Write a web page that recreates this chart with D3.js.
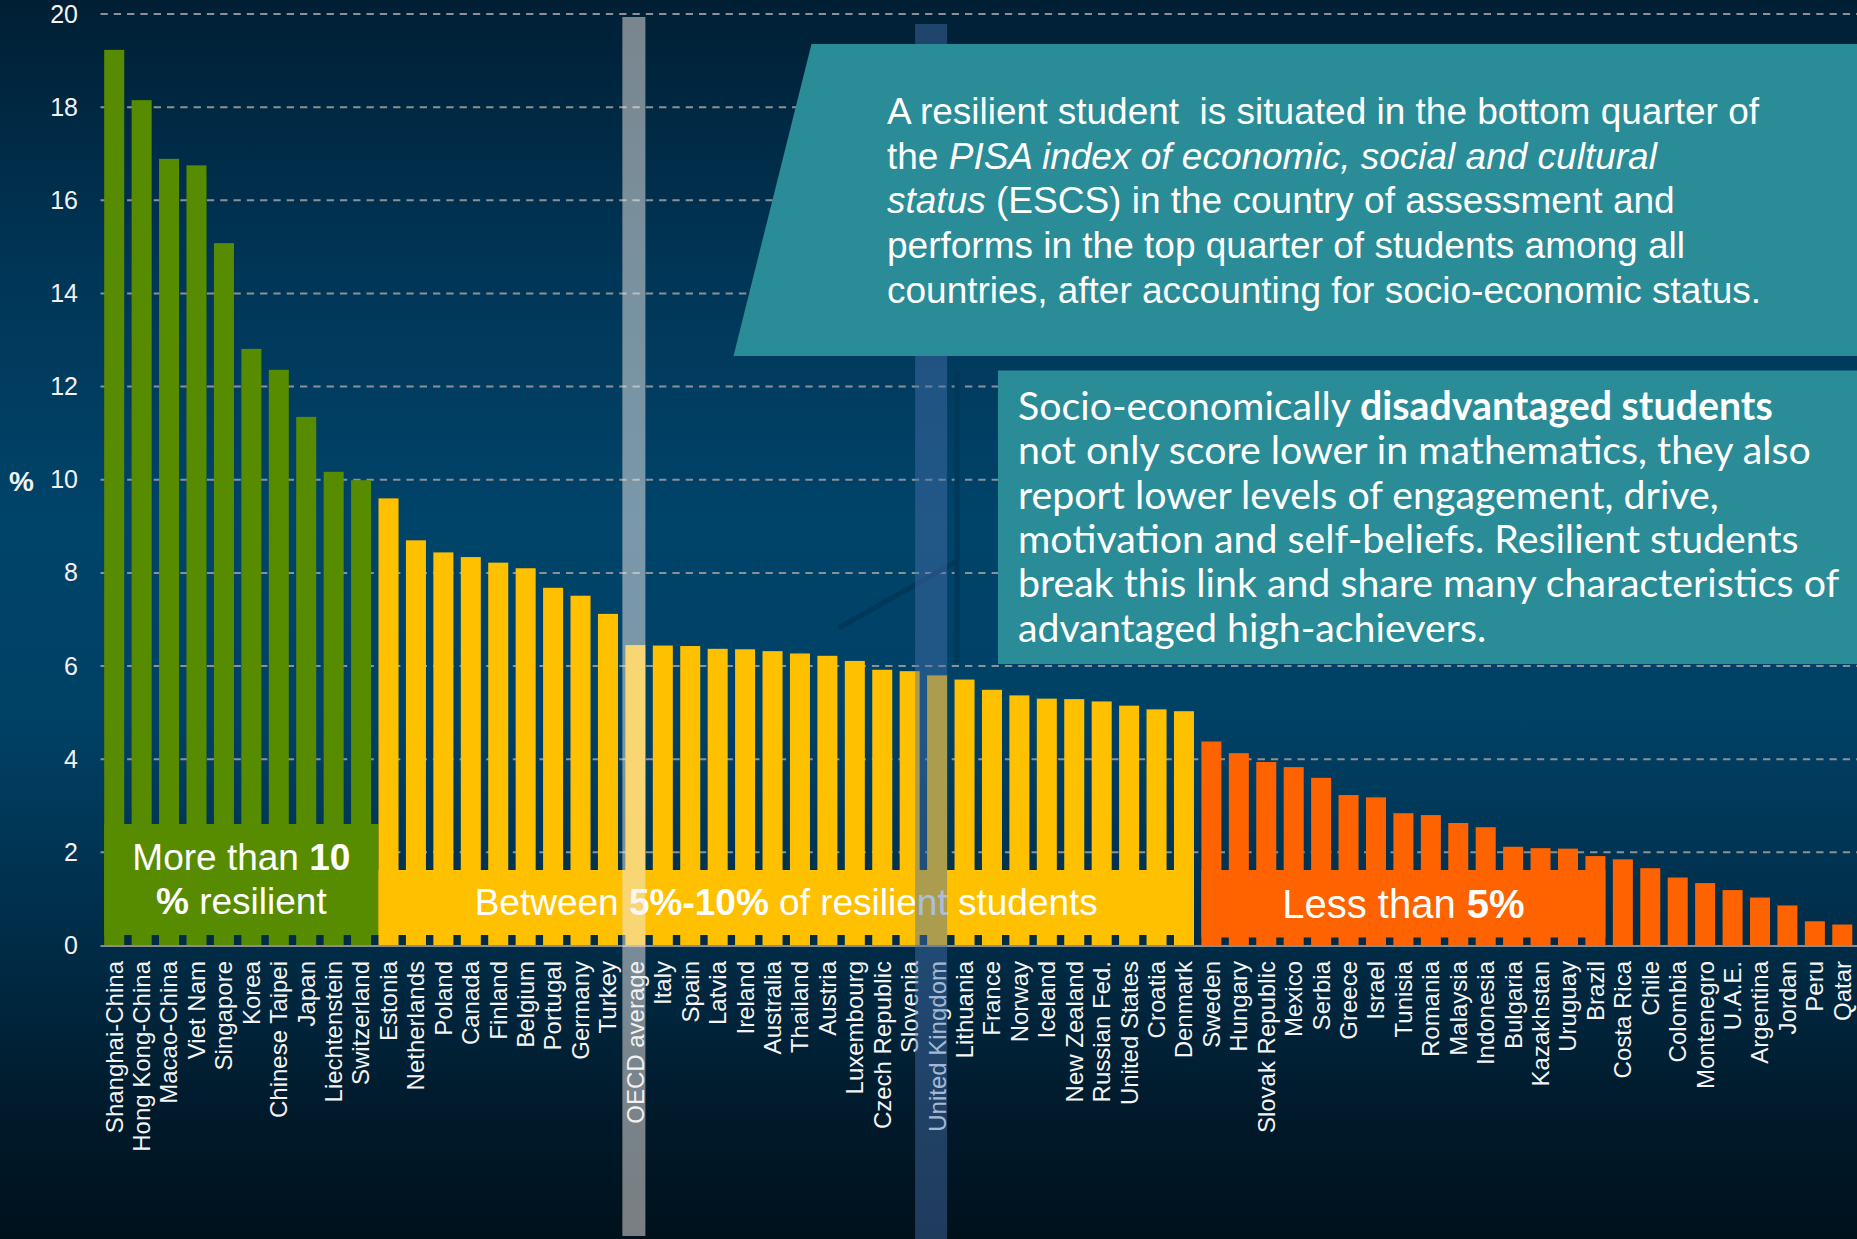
<!DOCTYPE html>
<html>
<head>
<meta charset="utf-8">
<script src="https://cdn.jsdelivr.net/npm/d3@7"></script>
<style>
  html, body { margin: 0; padding: 0; background: #00111c; overflow: hidden; }
  svg { display: block; }
</style>
</head>
<body>
<svg id="chart" width="1857" height="1239"></svg>
<script>
// Share of resilient students, PISA 2012 (%)
const countries = [
  "Shanghai-China", "Hong Kong-China", "Macao-China", "Viet Nam", "Singapore",
  "Korea", "Chinese Taipei", "Japan", "Liechtenstein", "Switzerland",
  "Estonia", "Netherlands", "Poland", "Canada", "Finland", "Belgium", "Portugal",
  "Germany", "Turkey", "OECD average", "Italy", "Spain", "Latvia", "Ireland",
  "Australia", "Thailand", "Austria", "Luxembourg", "Czech Republic", "Slovenia",
  "United Kingdom", "Lithuania", "France", "Norway", "Iceland", "New Zealand",
  "Russian Fed.", "United States", "Croatia", "Denmark",
  "Sweden", "Hungary", "Slovak Republic", "Mexico", "Serbia", "Greece", "Israel",
  "Tunisia", "Romania", "Malaysia", "Indonesia", "Bulgaria", "Kazakhstan",
  "Uruguay", "Brazil", "Costa Rica", "Chile", "Colombia", "Montenegro", "U.A.E.",
  "Argentina", "Jordan", "Peru", "Qatar"
];

const resilientPct = [
  19.23, 18.15, 16.89, 16.75, 15.08, 12.81, 12.36, 11.35, 10.17, 9.99,
  9.60, 8.70, 8.44, 8.34, 8.22, 8.10, 7.68, 7.51, 7.12, 6.45,
  6.44, 6.43, 6.37, 6.36, 6.32, 6.27, 6.22, 6.11, 5.92, 5.89,
  5.80, 5.71, 5.49, 5.37, 5.30, 5.29, 5.24, 5.15, 5.07, 5.03,
  4.38, 4.13, 3.94, 3.83, 3.60, 3.23, 3.18, 2.84, 2.80, 2.63,
  2.54, 2.12, 2.09, 2.08, 1.92, 1.85, 1.66, 1.46, 1.34, 1.19,
  1.03, 0.86, 0.52, 0.45
];

// Groups: first country of each group (countries are sorted by share)
const groupFirst = ["Shanghai-China", "Estonia", "Sweden"];
// Group banners: where each banner runs, and its label
const bannerFrom = ["Shanghai-China", "Estonia", "Sweden"];
const bannerTo = ["Switzerland", "Denmark", "Brazil"];
const bannerLines = [
  [[["More than ", false], ["10", true]], [["%", true], [" resilient", false]]],
  [[["Between ", false], ["5%-10%", true], [" of resilient students", false]]],
  [[["Less than ", false], ["5%", true]]]
];

const yTicks = [0, 2, 4, 6, 8, 10, 12, 14, 16, 18, 20];
const highlighted = ["OECD average", "United Kingdom"];

// ---- styling ----
const groupColours = ["#588c00", "#ffc000", "#ff6300"];
const W = 1857, H = 1239;
const svg = d3.select("#chart");

const defs = svg.append("defs");
const bg = defs.append("linearGradient").attr("id", "bg")
  .attr("x1", 0).attr("y1", 0).attr("x2", 0).attr("y2", 1);
[[0, "#001f34"], [0.22, "#003657"], [0.42, "#00446a"], [0.58, "#004166"],
 [0.76, "#002c47"], [0.9, "#001a2b"], [1, "#00111c"]]
  .forEach(([o, c]) => bg.append("stop").attr("offset", o).attr("stop-color", c));

svg.append("rect").attr("width", W).attr("height", H).attr("fill", "url(#bg)");

// ---- scales ----
const x = d3.scaleBand().domain(countries)
  .range([100.5, 1856]).paddingInner(0.27).paddingOuter(0.135);
const y = d3.scaleLinear().domain([0, 20]).range([945.5, 14]);

const data = countries.map((c, i) => ({ country: c, value: resilientPct[i], index: i }));
const groupStartIdx = groupFirst.map(c => countries.indexOf(c));
const groupOf = i => groupStartIdx.filter(s => i >= s).length - 1;

// ---- gridlines ----
svg.append("g").selectAll("line").data(yTicks.filter(t => t > 0)).join("line")
  .attr("x1", 100.5).attr("x2", W)
  .attr("y1", d => y(d)).attr("y2", d => y(d))
  .attr("stroke", "#8d9194").attr("stroke-width", 2)
  .attr("stroke-dasharray", "7.3,6");

// ---- group banners (around the bars) ----
const bannerTop = [824, 870, 870];
const bannerBottom = [935, 935, 937.5];
const bannerSpan = g => {
  const x0 = x(bannerFrom[g]);
  const x1 = g === 0 ? x(countries[countries.indexOf(bannerTo[g]) + 1])
                     : x(bannerTo[g]) + x.bandwidth();
  return [x0, x1];
};
const banners = svg.append("g");
bannerFrom.forEach((from, g) => {
  const [x0, x1] = bannerSpan(g);
  banners.append("rect")
    .attr("x", x0).attr("y", bannerTop[g])
    .attr("width", x1 - x0).attr("height", bannerBottom[g] - bannerTop[g])
    .attr("fill", groupColours[g]);
});

// ---- bars ----
svg.append("g").selectAll("rect").data(data).join("rect")
  .attr("x", d => x(d.country))
  .attr("width", x.bandwidth())
  .attr("y", d => y(d.value))
  .attr("height", d => y(0) - y(d.value))
  .attr("fill", d => groupColours[groupOf(d.index)]);

// ---- banner text ----
const bannerText = svg.append("g")
  .attr("font-family", "'Liberation Sans', Arial, sans-serif")
  .attr("fill", "#ffffff");
const bannerBaselines = [[870, 914], [915], [917.5]];
const bannerFont = [37, 37, 40];
bannerFrom.forEach((from, g) => {
  const [x0, x1] = bannerSpan(g);
  bannerLines[g].forEach((line, li) => {
    const t = bannerText.append("text")
      .attr("x", (x0 + x1) / 2).attr("y", bannerBaselines[g][li])
      .attr("font-size", bannerFont[g])
      .attr("text-anchor", "middle").style("white-space", "pre");
    line.forEach(([s, bold]) => t.append("tspan").text(s)
      .attr("font-weight", bold ? "bold" : "normal"));
  });
});

// ---- baseline ----
svg.append("line").attr("x1", 100.5).attr("x2", W)
  .attr("y1", y(0) + 0.5).attr("y2", y(0) + 0.5)
  .attr("stroke", "#8a8d90").attr("stroke-width", 2);

// ---- y axis labels ----
const yAxis = svg.append("g").attr("transform", "translate(78,0)")
  .call(d3.axisLeft(y).tickValues(yTicks).tickSize(0).tickPadding(0));
yAxis.select(".domain").remove();
yAxis.selectAll("text")
  .attr("font-family", "'Liberation Sans', Arial, sans-serif")
  .attr("font-size", 25).attr("fill", "#f2f2f2");

svg.append("text").attr("x", 9).attr("y", 491)
  .attr("font-family", "'Liberation Sans', Arial, sans-serif")
  .attr("font-size", 28).attr("font-weight", "bold").attr("fill", "#f2f2f2")
  .text("%");

// ---- country labels ----
svg.append("g").selectAll("text").data(data).join("text")
  .attr("transform", d => `translate(${x(d.country) + x.bandwidth() / 2},961) rotate(-90)`)
  .attr("text-anchor", "end").attr("dy", "0.35em")
  .attr("font-family", "'Liberation Sans', Arial, sans-serif")
  .attr("font-size", 24).attr("fill", "#f4f4f4")
  .text(d => d.country);

// ---- connector of the second note ----
svg.append("path")
  .attr("d", "M839,628 L957,561 M957,371 L957,663")
  .attr("fill", "none").attr("stroke", "#003859").attr("stroke-width", 5);

// ---- highlighted columns (OECD average, United Kingdom) ----
const colStyle = {
  "OECD average": { left: 3, fill: "rgb(242,236,232)", opacity: 0.5, top: 17, bottom: 1236 },
  "United Kingdom": { left: 12, fill: "rgb(70,114,172)", opacity: 0.45, top: 24, bottom: H }
};
svg.append("g").selectAll("rect").data(highlighted).join("rect")
  .attr("x", d => x(d) - colStyle[d].left)
  .attr("width", d => x.bandwidth() + colStyle[d].left)
  .attr("y", d => colStyle[d].top)
  .attr("height", d => colStyle[d].bottom - colStyle[d].top)
  .attr("fill", d => colStyle[d].fill)
  .attr("fill-opacity", d => colStyle[d].opacity);

// ---- note 1: definition ----
const teal = "#298c97";
svg.append("polygon")
  .attr("points", `811.5,44 ${W},44 ${W},356 733.5,356`)
  .attr("fill", teal);
const note1 = svg.append("g")
  .attr("font-family", "'Liberation Sans', Arial, sans-serif")
  .attr("font-size", 37).attr("fill", "#ffffff");
const note1Lines = [
  [["A resilient student  is situated in the bottom quarter of", false]],
  [["the ", false], ["PISA index of economic, social and cultural", true]],
  [["status", true], [" (ESCS) in the country of assessment and", false]],
  [["performs in the top quarter of students among all", false]],
  [["countries, after accounting for socio-economic status.", false]]
];
note1Lines.forEach((line, i) => {
  const t = note1.append("text").attr("x", 887).attr("y", 124 + i * 44.7)
    .style("white-space", "pre");
  line.forEach(([s, it]) => t.append("tspan").text(s)
    .attr("font-style", it ? "italic" : "normal"));
});

// ---- note 2: disadvantaged students ----
svg.append("rect").attr("x", 998).attr("y", 370.5)
  .attr("width", W - 998).attr("height", 293.5).attr("fill", teal);
const note2 = svg.append("g")
  .attr("font-family", "Lato, 'Open Sans', sans-serif")
  .attr("fill", "#ffffff");
const note2Lines = [
  [["Socio-economically ", false], ["disadvantaged students", true]],
  [["not only score lower in mathematics, they also", false]],
  [["report lower levels of engagement, drive,", false]],
  [["motivation and self-beliefs. Resilient students", false]],
  [["break this link and share many characteristics of", false]],
  [["advantaged high-achievers.", false]]
];
const note2Texts = note2Lines.map((line, i) => {
  const t = note2.append("text").attr("x", 1018).attr("y", 420 + i * 44.3)
    .attr("font-size", 36).style("white-space", "pre");
  line.forEach(([s, b]) => t.append("tspan").text(s)
    .attr("font-weight", b ? "bold" : "normal"));
  return t;
});
// size the note text so its second line spans the box's text width
const measured = note2Texts[1].node().getComputedTextLength();
const fitted = 36 * 793 / measured;
note2Texts.forEach(t => t.attr("font-size", fitted));
</script>
</body>
</html>
